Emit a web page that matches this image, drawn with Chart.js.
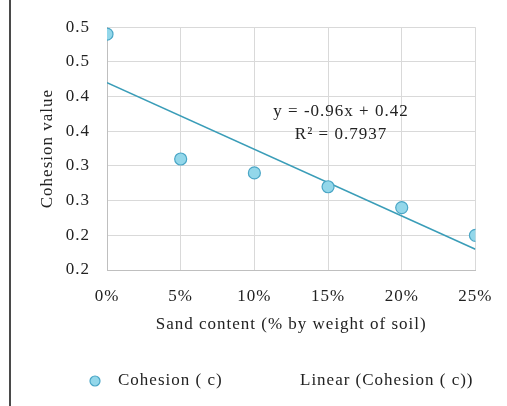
<!DOCTYPE html>
<html>
<head>
<meta charset="utf-8">
<script src="https://cdn.jsdelivr.net/npm/chart.js@4"></script>
<style>
  html, body { margin: 0; padding: 0; background: #fff; }
  #wrap { position: relative; width: 507px; height: 406px; }
  #edge { position: absolute; left: 9px; top: 0; width: 2px; height: 406px; background: #4a4a4a; }
  canvas { position: absolute; left: 0; top: 0; }
</style>
</head>
<body>
<div id="wrap">
  <div id="edge"></div>
  <canvas id="chart" width="507" height="406"></canvas>
</div>
<script>
// Données
const sandContent = [0, 0.05, 0.10, 0.15, 0.20, 0.25];
const cohesion = [0.49, 0.31, 0.29, 0.27, 0.24, 0.20];
const xTickLabels = ['0%', '5%', '10%', '15%', '20%', '25%'];
const yTickLabels = ['0.2', '0.2', '0.3', '0.3', '0.4', '0.4', '0.5', '0.5'];
const equationText = ['y = -0.96x + 0.42', 'R\u00B2 = 0.7937'];

// Droite de tendance (moindres carrés)
const n = sandContent.length;
const mx = sandContent.reduce((a, b) => a + b, 0) / n;
const my = cohesion.reduce((a, b) => a + b, 0) / n;
let sxy = 0, sxx = 0;
for (let i = 0; i < n; i++) {
  sxy += (sandContent[i] - mx) * (cohesion[i] - my);
  sxx += (sandContent[i] - mx) ** 2;
}
const slope = sxy / sxx;
const intercept = my - slope * mx;
const xFirst = sandContent[0], xLast = sandContent[n - 1];

const serif = '"Liberation Serif", "Times New Roman", serif';
const fontSize = 17;

// Texte un peu étiré comme sur l'original
const spacing = {
  id: 'spacing',
  beforeDraw(chart) { chart.ctx.letterSpacing = '1px'; }
};

// Légende et équation dessinées à la main
const annotations = {
  id: 'annotations',
  afterDraw(chart) {
    const ctx = chart.ctx;
    ctx.save();
    ctx.letterSpacing = '1px';
    ctx.font = fontSize + 'px ' + serif;
    ctx.fillStyle = '#222';
    ctx.textAlign = 'center';
    ctx.textBaseline = 'middle';
    ctx.fillText(equationText[0], 341, 112);
    ctx.fillText(equationText[1], 341, 135);

    // légende
    ctx.beginPath();
    ctx.arc(95, 381, 5, 0, Math.PI * 2);
    ctx.fillStyle = '#93d7ea';
    ctx.fill();
    ctx.lineWidth = 1.2;
    ctx.strokeStyle = '#4aa6c6';
    ctx.stroke();
    ctx.fillStyle = '#222';
    ctx.textAlign = 'left';
    ctx.fillText(chart.data.datasets[0].label, 118, 381);
    ctx.fillText(chart.data.datasets[1].label, 300, 381);
    ctx.restore();
  }
};

const ctx = document.getElementById('chart').getContext('2d');
new Chart(ctx, {
  type: 'scatter',
  data: {
    datasets: [{
      label: 'Cohesion ( c)',
      data: sandContent.map((x, i) => ({ x: x, y: cohesion[i] })),
      backgroundColor: '#93d7ea',
      borderColor: '#4aa6c6',
      borderWidth: 1.2,
      pointRadius: 6,
      pointHoverRadius: 6,
      order: 1
    }, {
      label: 'Linear (Cohesion ( c))',
      type: 'line',
      data: [
        { x: xFirst, y: intercept + slope * xFirst },
        { x: xLast, y: intercept + slope * xLast }
      ],
      borderColor: '#3a9db8',
      borderWidth: 1.6,
      pointRadius: 0,
      fill: false,
      order: 2
    }]
  },
  options: {
    responsive: false,
    animation: false,
    layout: { padding: { left: 20, right: 31, top: 27, bottom: 71 } },
    plugins: {
      legend: { display: false },
      tooltip: { enabled: false }
    },
    scales: {
      x: {
        type: 'linear',
        min: 0,
        max: 0.25,
        afterBuildTicks: s => { s.ticks = sandContent.map(v => ({ value: v })); },
        afterFit: s => { s.height = 65; },
        ticks: {
          padding: 16,
          color: '#222',
          font: { family: serif, size: fontSize },
          callback: (v, i) => xTickLabels[i]
        },
        grid: { color: '#d9d9d9', drawTicks: false },
        border: { color: '#bfbfbf' },
        title: {
          display: true,
          text: 'Sand content (% by weight of soil)',
          color: '#222',
          font: { family: serif, size: fontSize },
          padding: { top: 0, bottom: 0 }
        }
      },
      y: {
        min: 0.15,
        max: 0.5,
        ticks: {
          stepSize: 0.05,
          padding: 17,
          color: '#222',
          font: { family: serif, size: fontSize },
          callback: (v, i) => yTickLabels[i]
        },
        afterFit: s => { s.width = 87; },
        grid: { color: '#d9d9d9', drawTicks: false },
        border: { color: '#bfbfbf' },
        title: {
          display: true,
          text: 'Cohesion value',
          color: '#222',
          font: { family: serif, size: fontSize },
          padding: { top: 17, bottom: 0 }
        }
      }
    }
  },
  plugins: [spacing, annotations]
});
</script>
</body>
</html>
